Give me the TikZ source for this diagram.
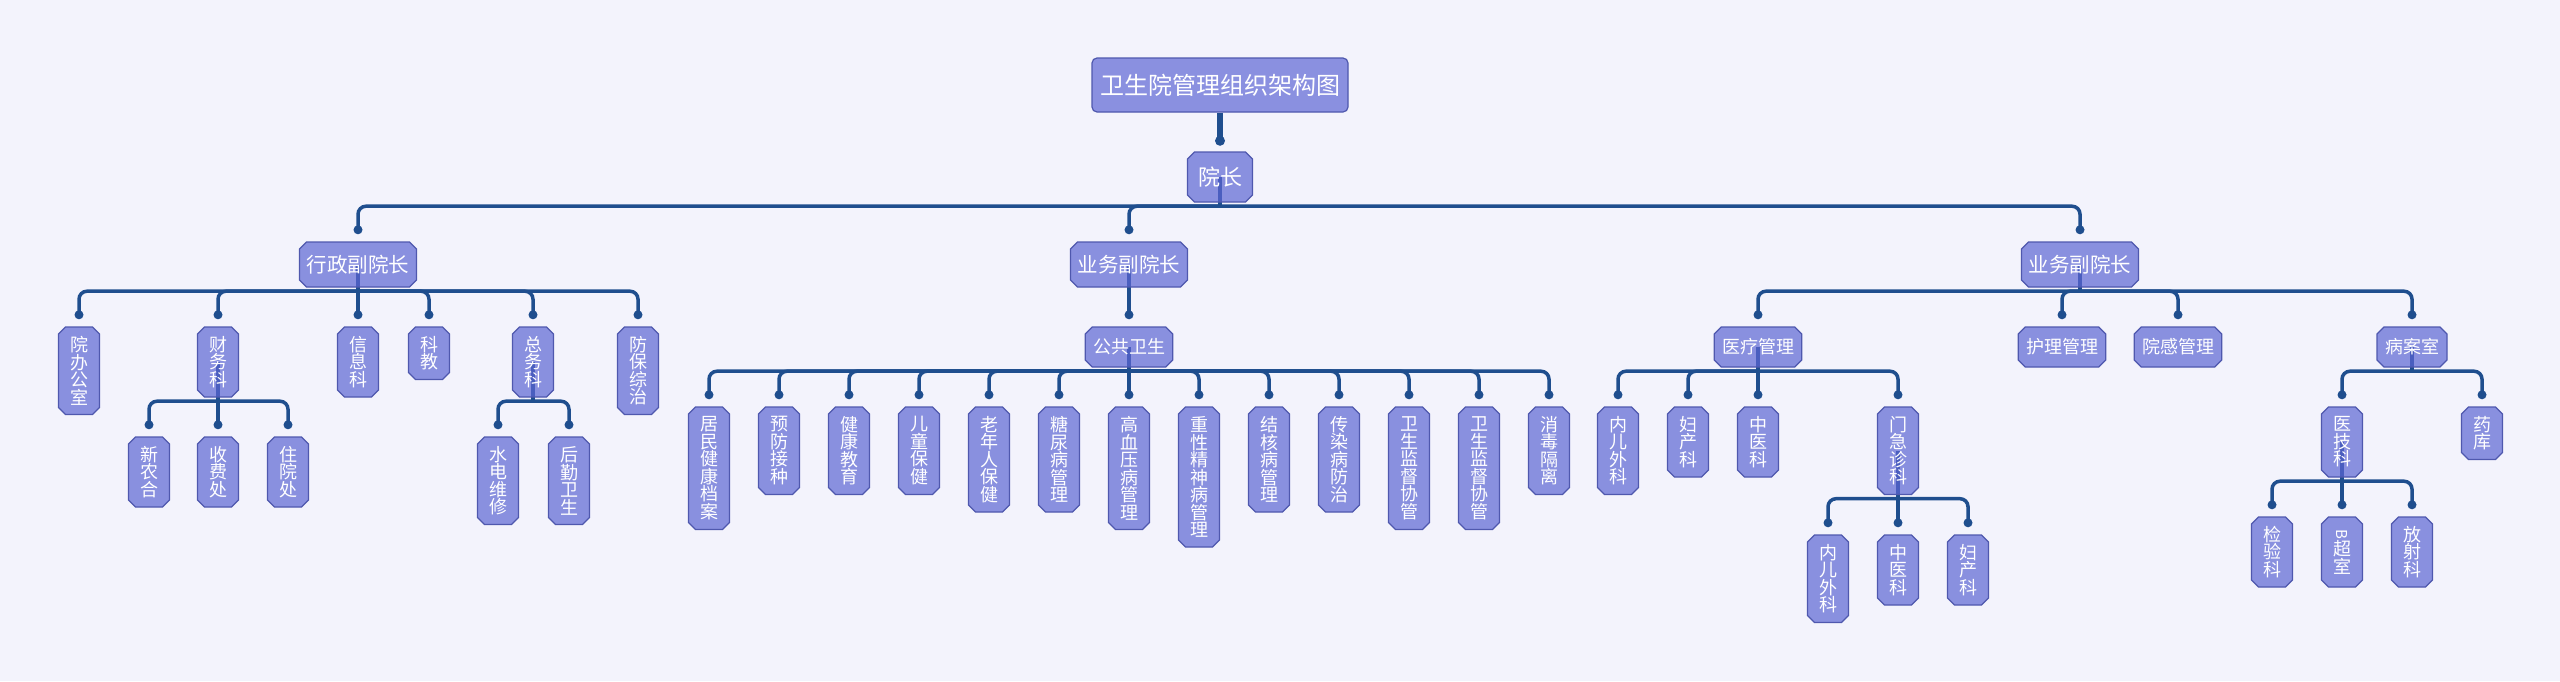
\documentclass[tikz,border=0pt]{standalone}
\usepackage{fontspec}
\usepackage{graphicx}
\newfontfamily\cjk{Noto Sans CJK SC}
\usetikzlibrary{calc}
\pgfdeclarelayer{bg}
\pgfdeclarelayer{edges}
\pgfsetlayers{bg,edges,main}
\definecolor{bgc}{HTML}{F3F3FC}
\definecolor{nodefill}{HTML}{5D66D4}
\definecolor{titlefill}{HTML}{8A90E0}
\definecolor{nodeedge}{HTML}{4F58AE}
\definecolor{linec}{HTML}{1F4E8E}
\def\chamf{7}
\tikzset{
  octshape/.style={fill=nodefill, fill opacity=0.7, draw=nodeedge, line width=1.2pt},
  octlabel/.style={inner sep=0pt, text=white, align=center},
  vtext/.style={font=\cjk\fontsize{18}{17.5}\selectfont},
  htext/.style={font=\cjk\fontsize{18}{20}\selectfont},
  ltext/.style={font=\cjk\fontsize{20.5}{22}\selectfont},
  ytext/.style={font=\cjk\fontsize{22}{24}\selectfont},
  titlebox/.style={draw=nodeedge, fill=titlefill, line width=1.2pt, rounded corners=5pt, inner sep=0pt, text=white, font=\cjk\fontsize{24}{26}\selectfont},
  conn/.style={draw=linec, line width=3.5pt},
  dotc/.style={fill=linec},
}
% name, x, top, width, height, text style, text
\newcommand{\octbox}[7]{%
  \path[octshape] ({#2-#4/2+\chamf},{#3}) -- ({#2+#4/2-\chamf},{#3}) -- ({#2+#4/2},{#3+\chamf})
    -- ({#2+#4/2},{#3+#5-\chamf}) -- ({#2+#4/2-\chamf},{#3+#5}) -- ({#2-#4/2+\chamf},{#3+#5})
    -- ({#2-#4/2},{#3+#5-\chamf}) -- ({#2-#4/2},{#3+\chamf}) -- cycle;
  \node[octlabel, #6, minimum width=#4pt, minimum height=#5pt] (#1) at ({#2},{#3+#5/2}) {#7};
}
\newcommand{\stem}[1]{\draw[conn] (#1.center) -- ([yshift=-5.75pt]#1.south);}
\newcommand{\link}[2]{%
  \draw[conn, rounded corners=8pt] ([yshift=-4pt]#1.south) -| ([yshift=12pt]#2.north);
  \fill[dotc] ([yshift=12pt]#2.north) circle (4.5pt);
}
\begin{document}
\begin{tikzpicture}[x=1pt,y=-1pt]
\begin{pgfonlayer}{bg}
\fill[bgc] (0,0) rectangle (2560,681);
\end{pgfonlayer}
\useasboundingbox (0,0) rectangle (2560,681);

% title and root
\node[titlebox, minimum width=256pt, minimum height=54pt] (T) at (1220,85) {卫生院管理组织架构图};
\octbox{Y}{1220}{152}{65}{50}{ytext}{院长}

% level 2
\octbox{A}{358}{242}{117}{45}{ltext}{行政副院长}
\octbox{B}{1129}{242}{117}{45}{ltext}{业务副院长}
\octbox{C}{2080}{242}{117}{45}{ltext}{业务副院长}

% admin branch
\octbox{a1}{79}{327}{41}{87.5}{vtext}{院\\办\\公\\室}
\octbox{a2}{218}{327}{41}{70}{vtext}{财\\务\\科}
\octbox{a3}{358}{327}{41}{70}{vtext}{信\\息\\科}
\octbox{a4}{429}{327}{41}{52.5}{vtext}{科\\教}
\octbox{a5}{533}{327}{41}{70}{vtext}{总\\务\\科}
\octbox{a6}{638}{327}{41}{87.5}{vtext}{防\\保\\综\\治}
\octbox{a21}{149}{437}{41}{70}{vtext}{新\\农\\合}
\octbox{a22}{218}{437}{41}{70}{vtext}{收\\费\\处}
\octbox{a23}{288}{437}{41}{70}{vtext}{住\\院\\处}
\octbox{a51}{498}{437}{41}{87.5}{vtext}{水\\电\\维\\修}
\octbox{a52}{569}{437}{41}{87.5}{vtext}{后\\勤\\卫\\生}

% public health branch
\octbox{b1}{1129}{327}{87.5}{40}{htext}{公共卫生}
\octbox{p1}{709}{407}{41}{122.5}{vtext}{居\\民\\健\\康\\档\\案}
\octbox{p2}{779}{407}{41}{87.5}{vtext}{预\\防\\接\\种}
\octbox{p3}{849}{407}{41}{87.5}{vtext}{健\\康\\教\\育}
\octbox{p4}{919}{407}{41}{87.5}{vtext}{儿\\童\\保\\健}
\octbox{p5}{989}{407}{41}{105}{vtext}{老\\年\\人\\保\\健}
\octbox{p6}{1059}{407}{41}{105}{vtext}{糖\\尿\\病\\管\\理}
\octbox{p7}{1129}{407}{41}{122.5}{vtext}{高\\血\\压\\病\\管\\理}
\octbox{p8}{1199}{407}{41}{140}{vtext}{重\\性\\精\\神\\病\\管\\理}
\octbox{p9}{1269}{407}{41}{105}{vtext}{结\\核\\病\\管\\理}
\octbox{p10}{1339}{407}{41}{105}{vtext}{传\\染\\病\\防\\治}
\octbox{p11}{1409}{407}{41}{122.5}{vtext}{卫\\生\\监\\督\\协\\管}
\octbox{p12}{1479}{407}{41}{122.5}{vtext}{卫\\生\\监\\督\\协\\管}
\octbox{p13}{1549}{407}{41}{87.5}{vtext}{消\\毒\\隔\\离}

% medical branch
\octbox{c1}{1758}{327}{87.5}{40}{htext}{医疗管理}
\octbox{c2}{2062}{327}{87.5}{40}{htext}{护理管理}
\octbox{c3}{2178}{327}{87.5}{40}{htext}{院感管理}
\octbox{c4}{2412}{327}{70}{40}{htext}{病案室}
\octbox{c11}{1618}{407}{41}{87.5}{vtext}{内\\儿\\外\\科}
\octbox{c12}{1688}{407}{41}{70}{vtext}{妇\\产\\科}
\octbox{c13}{1758}{407}{41}{70}{vtext}{中\\医\\科}
\octbox{c14}{1898}{407}{41}{87.5}{vtext}{门\\急\\诊\\科}
\octbox{c141}{1828}{535}{41}{87.5}{vtext}{内\\儿\\外\\科}
\octbox{c142}{1898}{535}{41}{70}{vtext}{中\\医\\科}
\octbox{c143}{1968}{535}{41}{70}{vtext}{妇\\产\\科}
\octbox{c41}{2342}{407}{41}{70}{vtext}{医\\技\\科}
\octbox{c42}{2482}{407}{41}{52.5}{vtext}{药\\库}
\octbox{c411}{2272}{517}{41}{70}{vtext}{检\\验\\科}
\octbox{c412}{2342}{517}{41}{70}{vtext}{{\fontsize{15}{15}\selectfont\rotatebox{-90}{B}}\\超\\室}
\octbox{c413}{2412}{517}{41}{70}{vtext}{放\\射\\科}

\begin{pgfonlayer}{edges}
\draw[conn, line width=5.5pt] (T.south) -- ([yshift=11pt]Y.north);
\fill[dotc] ([yshift=11pt]Y.north) circle (5pt);
\stem{Y}
\link{Y}{A}\link{Y}{B}\link{Y}{C}
\stem{A}
\link{A}{a1}\link{A}{a2}\link{A}{a3}\link{A}{a4}\link{A}{a5}\link{A}{a6}
\stem{a2}
\link{a2}{a21}\link{a2}{a22}\link{a2}{a23}
\stem{a5}
\link{a5}{a51}\link{a5}{a52}
\stem{B}
\link{B}{b1}
\stem{b1}
\link{b1}{p1}\link{b1}{p2}\link{b1}{p3}\link{b1}{p4}\link{b1}{p5}\link{b1}{p6}\link{b1}{p7}
\link{b1}{p8}\link{b1}{p9}\link{b1}{p10}\link{b1}{p11}\link{b1}{p12}\link{b1}{p13}
\stem{C}
\link{C}{c1}\link{C}{c2}\link{C}{c3}\link{C}{c4}
\stem{c1}
\link{c1}{c11}\link{c1}{c12}\link{c1}{c13}\link{c1}{c14}
\stem{c14}
\link{c14}{c141}\link{c14}{c142}\link{c14}{c143}
\stem{c4}
\link{c4}{c41}\link{c4}{c42}
\stem{c41}
\link{c41}{c411}\link{c41}{c412}\link{c41}{c413}
\end{pgfonlayer}
\end{tikzpicture}
\end{document}
